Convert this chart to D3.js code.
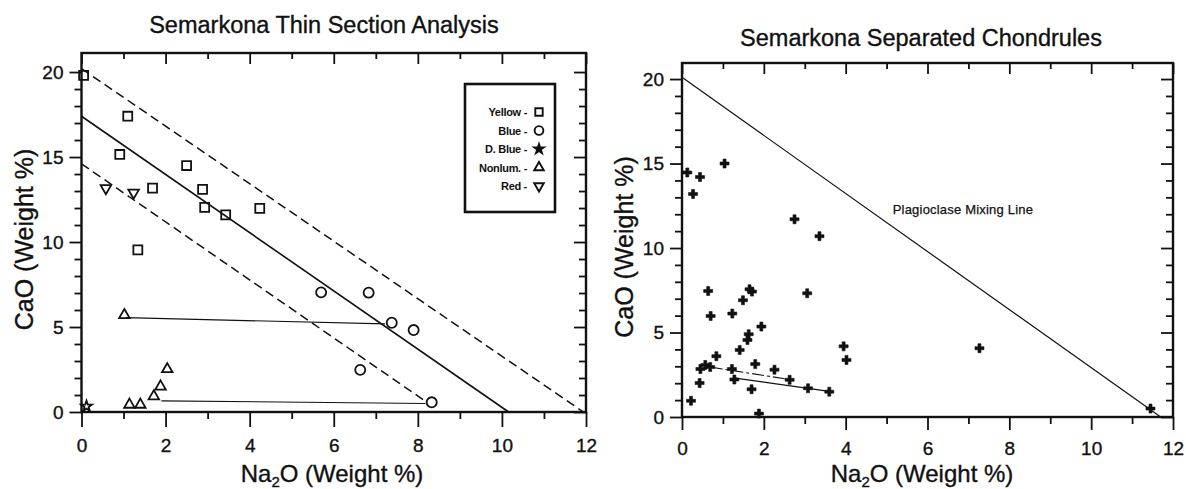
<html>
<head>
  <title>Semarkona CaO vs Na2O</title>
  <meta charset="utf-8" />
  <script src="https://cdnjs.cloudflare.com/ajax/libs/d3/7.8.5/d3.min.js"></script>
  <style>
    body { margin: 0; background: #fff; }
    svg { font-family: "Liberation Sans", Arial, sans-serif; }
    path.domain { display: none; }
    .tick > line { stroke: #111; stroke-width: 1.8; }
    .tick > text { font-size: 19px; fill: #111; stroke: #111; stroke-width: 0.35; }
    .heavy { stroke: #111; stroke-width: 0.35; }
  </style>
</head>
<body>
  <svg width="1186" height="489"></svg>
  <script>
    // axis ticks
    var xTicks = [0, 2, 4, 6, 8, 10, 12]
    var xMinor = [1, 3, 5, 7, 9, 11]
    var yTicks = [0, 5, 10, 15, 20]
    var yMinor = [1, 2, 3, 4, 6, 7, 8, 9, 11, 12, 13, 14, 16, 17, 18, 19]

    // left panel: thin section analysis, [Na2O, CaO]
    var yellow = [[0.05, 19.8], [1.1, 17.4], [0.91, 15.15], [2.5, 14.5], [1.69, 13.17],
                  [2.88, 13.1], [2.93, 12.04], [3.43, 11.6], [4.24, 11.98], [1.34, 9.54]]
    var blue   = [[5.7, 7.04], [6.83, 7.02], [7.38, 5.25], [7.9, 4.82], [6.63, 2.48], [8.33, 0.57]]
    var dBlue  = [[0.12, 0.33]]
    var nonlum = [[1.02, 5.7], [1.14, 0.43], [1.4, 0.43], [1.72, 0.92], [1.88, 1.5], [2.04, 2.52]]
    var red    = [[0.58, 13.17], [1.24, 12.9]]

    var centreLine = [[0, 17.4], [10.16, 0]]
    var upperLine  = [[0, 20.2], [11.94, 0]]
    var lowerLine  = [[0, 14.6], [8.2, 0.6]]
    var tieLines   = [[[1.05, 5.55], [7.22, 5.18]], [[1.9, 0.66], [8.18, 0.5]]]

    var legendLabels = ["Yellow -", "Blue -", "D. Blue -", "Nonlum. -", "Red -"]

    // right panel: separated chondrules, [Na2O, CaO]
    var chondrules = [[0.13, 14.47], [0.44, 14.2], [0.27, 13.2], [1.04, 15.0], [2.75, 11.7],
                      [3.36, 10.7], [0.64, 7.46], [0.7, 5.98], [1.23, 6.12], [1.49, 6.91],
                      [1.65, 7.56], [1.71, 7.42], [3.06, 7.32], [1.94, 5.35], [1.63, 4.9],
                      [1.6, 4.56], [1.41, 3.97], [0.84, 3.6], [0.57, 3.08], [0.69, 2.96],
                      [0.45, 2.84], [0.43, 2.01], [0.22, 0.96], [1.22, 2.84], [1.28, 2.22],
                      [1.79, 3.13], [1.7, 1.64], [2.26, 2.8], [2.63, 2.2], [3.08, 1.7],
                      [3.6, 1.5], [1.88, 0.2], [3.95, 4.18], [4.02, 3.38], [7.27, 4.07],
                      [11.45, 0.5]]
    var mixingLine = [[0, 20.1], [11.7, 0]]
    var chondruleTie1 = [[0.7, 2.95], [2.63, 2.22]]
    var chondruleTie2 = [[1.3, 2.3], [3.6, 1.52]]

    var svg = d3.select("svg")

    function drawPanel(cfg) {
      var x = d3.scaleLinear().domain([0, 12]).range([cfg.left, cfg.right])
      var y = d3.scaleLinear().domain([0, cfg.ymax]).range([cfg.bottom, cfg.top])
      var g = svg.append("g")

      g.append("rect")
        .attr("x", cfg.left).attr("y", cfg.top)
        .attr("width", cfg.right - cfg.left).attr("height", cfg.bottom - cfg.top)
        .attr("fill", "none").attr("stroke", "#111").attr("stroke-width", 2.4)

      // bottom, outward ticks
      g.append("g").attr("transform", `translate(0,${cfg.bottom})`)
        .call(d3.axisBottom(x).tickValues(xTicks).tickSize(cfg.xMajor).tickPadding(cfg.xPad).tickSizeOuter(0))
      g.append("g").attr("transform", `translate(0,${cfg.bottom})`)
        .call(d3.axisBottom(x).tickValues(xMinor).tickSize(7).tickFormat("").tickSizeOuter(0))
      // top, inward ticks
      g.append("g").attr("transform", `translate(0,${cfg.top})`)
        .call(d3.axisBottom(x).tickValues(xTicks).tickSize(11).tickFormat("").tickSizeOuter(0))
      g.append("g").attr("transform", `translate(0,${cfg.top})`)
        .call(d3.axisBottom(x).tickValues(xMinor).tickSize(6).tickFormat("").tickSizeOuter(0))
      // left, outward ticks
      g.append("g").attr("transform", `translate(${cfg.left},0)`)
        .call(d3.axisLeft(y).tickValues(yTicks).tickSize(12).tickPadding(6).tickSizeOuter(0))
      g.append("g").attr("transform", `translate(${cfg.left},0)`)
        .call(d3.axisLeft(y).tickValues(yMinor).tickSize(7).tickFormat("").tickSizeOuter(0))
      // right, inward ticks
      g.append("g").attr("transform", `translate(${cfg.right},0)`)
        .call(d3.axisLeft(y).tickValues(yTicks).tickSize(12).tickFormat("").tickSizeOuter(0))
      g.append("g").attr("transform", `translate(${cfg.right},0)`)
        .call(d3.axisLeft(y).tickValues(yMinor).tickSize(7).tickFormat("").tickSizeOuter(0))

      g.selectAll(".tick text").attr("fill", "#111")

      g.append("text")
        .attr("class", "heavy")
        .attr("x", cfg.titleX).attr("y", cfg.titleY)
        .attr("text-anchor", "middle").style("font-size", "23.5px").attr("fill", "#111")
        .text(cfg.title)

      g.append("text")
        .attr("class", "heavy")
        .attr("transform", `translate(${cfg.yLabelX},${(cfg.top + cfg.bottom) / 2 + 7}) rotate(-90)`)
        .attr("text-anchor", "middle").style("font-size", "25px").attr("fill", "#111")
        .text("CaO (Weight %)")

      var xl = g.append("text")
        .attr("class", "heavy")
        .attr("x", cfg.xLabelX).attr("y", 482)
        .attr("text-anchor", "middle").style("font-size", "24px").attr("fill", "#111")
      xl.append("tspan").text("Na")
      xl.append("tspan").attr("dy", 5).style("font-size", "15px").text("2")
      xl.append("tspan").attr("dy", -5).text("O (Weight %)")

      return { g: g, x: x, y: y }
    }

    function drawLine(p, pts, width, dash) {
      var line = d3.line().x(d => p.x(d[0])).y(d => p.y(d[1]))
      p.g.append("path")
        .attr("d", line(pts))
        .attr("fill", "none").attr("stroke", "#111")
        .attr("stroke-width", width)
        .attr("stroke-dasharray", dash || null)
    }

    function drawPoints(p, pts, type, size, filled, rotate) {
      var sym = d3.symbol().type(type).size(size)
      p.g.selectAll(null)
        .data(pts)
        .enter()
        .append("path")
          .attr("d", sym)
          .attr("transform", d => `translate(${p.x(d[0])},${p.y(d[1])})` + (rotate ? " rotate(180)" : ""))
          .attr("fill", filled ? "#111" : "none")
          .attr("stroke", "#111")
          .attr("stroke-width", filled ? 0.6 : 1.8)
    }

    // ---------- left panel ----------
    var left = drawPanel({
      left: 81.5, right: 586, top: 53, bottom: 412, ymax: 21.12,
      xMajor: 15, xPad: 12, title: "Semarkona Thin Section Analysis",
      titleX: 324, titleY: 33, yLabelX: 33, xLabelX: 332
    })

    drawLine(left, upperLine, 1.5, "9,5")
    drawLine(left, lowerLine, 1.5, "9,5")
    drawLine(left, centreLine, 1.6)
    tieLines.forEach(t => drawLine(left, t, 1.2))

    drawPoints(left, yellow, d3.symbolSquare, 80, false)
    drawPoints(left, blue, d3.symbolCircle, 80, false)
    drawPoints(left, dBlue, d3.symbolStar, 36, false)
    drawPoints(left, nonlum, d3.symbolTriangle, 48, false)
    drawPoints(left, red, d3.symbolTriangle, 48, false, true)

    // legend
    var lg = left.g.append("g")
    lg.append("rect")
      .attr("x", 465).attr("y", 84).attr("width", 90).attr("height", 128)
      .attr("fill", "none").attr("stroke", "#111").attr("stroke-width", 2.6)
    var legendSym = [d3.symbolSquare, d3.symbolCircle, d3.symbolStar, d3.symbolTriangle, d3.symbolTriangle]
    var legendSize = [55, 60, 28, 40, 40]
    var ly = d3.scalePoint().domain(legendLabels).range([112, 186])
    lg.selectAll("text.leg")
      .data(legendLabels)
      .enter()
      .append("text")
        .attr("class", "leg")
        .attr("x", 527).attr("y", d => ly(d) + 4)
        .attr("text-anchor", "end")
        .style("font-size", "11px").style("font-weight", "bold").style("letter-spacing", "-0.3px")
        .attr("fill", "#111")
        .text(d => d)
    lg.selectAll("path.leg")
      .data(legendLabels)
      .enter()
      .append("path")
        .attr("class", "leg")
        .attr("d", (d, i) => d3.symbol().type(legendSym[i]).size(legendSize[i])())
        .attr("transform", (d, i) => `translate(539,${ly(d)})` + (i == 4 ? " rotate(180)" : ""))
        .attr("fill", (d, i) => i == 2 ? "#111" : "none")
        .attr("stroke", "#111").attr("stroke-width", 1.9)

    // ---------- right panel ----------
    var right = drawPanel({
      left: 682, right: 1173, top: 63, bottom: 417, ymax: 20.95,
      xMajor: 13, xPad: 12, title: "Semarkona Separated Chondrules",
      titleX: 921, titleY: 46, yLabelX: 633, xLabelX: 922
    })

    drawLine(right, mixingLine, 1.2)
    drawLine(right, chondruleTie1, 1.1, "12,3,3,3")
    drawLine(right, chondruleTie2, 1.2)
    drawPoints(right, chondrules, d3.symbolCross, 45, true)

    right.g.append("text")
      .attr("x", right.x(5.15)).attr("y", right.y(12.3) + 5)
      .style("font-size", "13px").style("letter-spacing", "0.2px").attr("fill", "#111")
      .attr("stroke", "#111").attr("stroke-width", 0.25)
      .text("Plagioclase Mixing Line")
  </script>
</body>
</html>
